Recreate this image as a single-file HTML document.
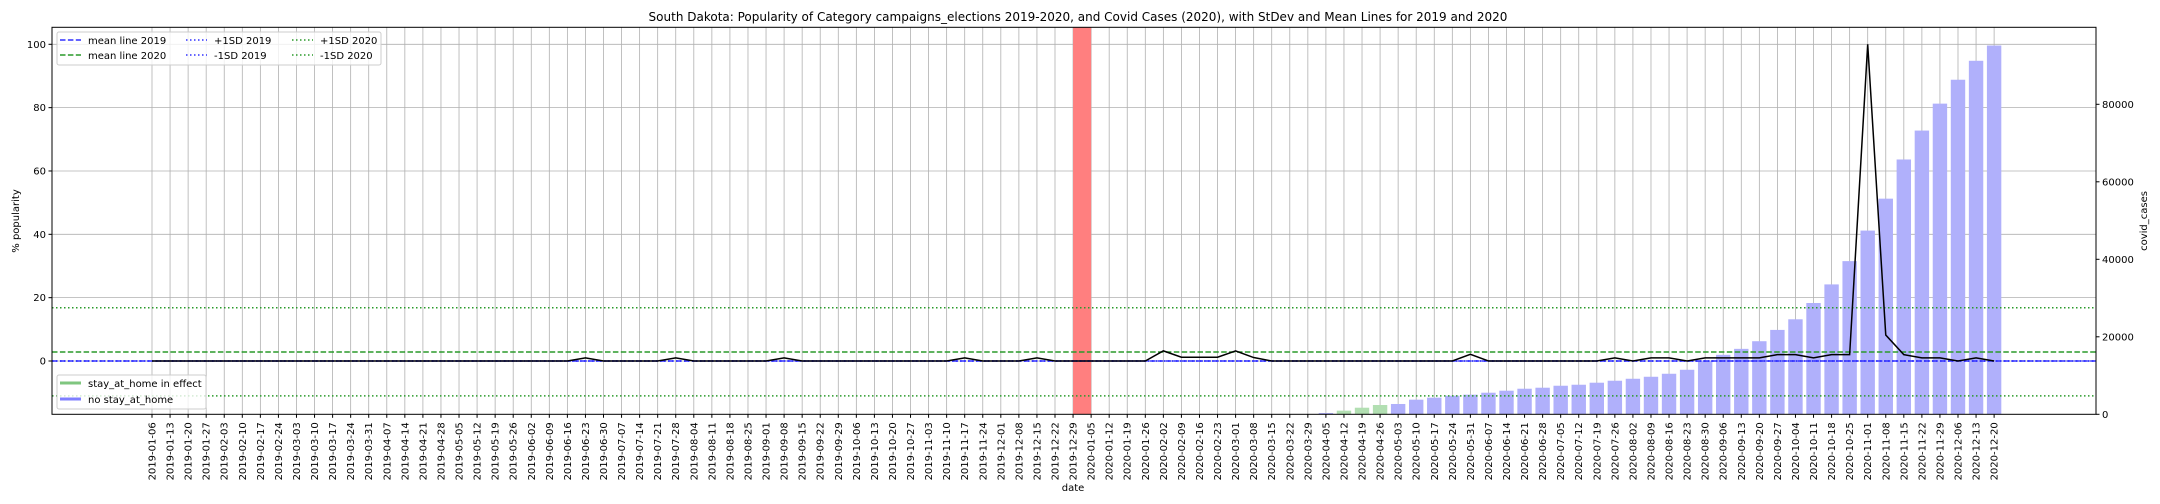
<!DOCTYPE html>
<html><head><meta charset="utf-8"><style>
body{margin:0;background:#fff}
svg{display:block;font-family:"DejaVu Sans","Liberation Sans",sans-serif}
</style></head><body>
<svg id="chart" width="2160" height="504" xmlns="http://www.w3.org/2000/svg">
<rect width="2160" height="504" fill="#fff"/>
<g id="grid"></g><g id="bands"></g><g id="bars"></g><g id="hlines"></g><g id="line"></g><g id="axes"></g>
<text x="1078" y="21" text-anchor="middle" font-size="12">South Dakota: Popularity of Category campaigns_elections 2019-2020, and Covid Cases (2020), with StDev and Mean Lines for 2019 and 2020</text>
<text x="1073" y="491" text-anchor="middle" font-size="10">date</text>
<text transform="translate(19,221) rotate(-90)" text-anchor="middle" font-size="10">% popularity</text>
<text transform="translate(2147,221) rotate(-90)" text-anchor="middle" font-size="10">covid_cases</text>
<g font-size="10">
<rect x="57" y="32" width="324" height="33" rx="2" fill="#fff" fill-opacity="0.8" stroke="#ccc"/>
<line x1="60" x2="81" y1="40" y2="40" stroke="#3030ff" stroke-width="1.5" stroke-dasharray="5.5 2.4"/><text x="88" y="44">mean line 2019</text>
<line x1="60" x2="81" y1="55" y2="55" stroke="#2a9a2a" stroke-width="1.5" stroke-dasharray="5.5 2.4"/><text x="88" y="59">mean line 2020</text>
<line x1="186" x2="207" y1="40" y2="40" stroke="#3030ff" stroke-width="1.5" stroke-dasharray="1.5 2.5"/><text x="214" y="44">+1SD 2019</text>
<line x1="186" x2="207" y1="55" y2="55" stroke="#3030ff" stroke-width="1.5" stroke-dasharray="1.5 2.5"/><text x="214" y="59">-1SD 2019</text>
<line x1="292" x2="313" y1="40" y2="40" stroke="#2a9a2a" stroke-width="1.5" stroke-dasharray="1.5 2.5"/><text x="320" y="44">+1SD 2020</text>
<line x1="292" x2="313" y1="55" y2="55" stroke="#2a9a2a" stroke-width="1.5" stroke-dasharray="1.5 2.5"/><text x="320" y="59">-1SD 2020</text>
</g>
<g font-size="10">
<rect x="57" y="375" width="149" height="34" rx="2" fill="#fff" fill-opacity="0.8" stroke="#ccc"/>
<line x1="60" x2="81" y1="383" y2="383" stroke="#7fc67f" stroke-width="3"/><text x="88" y="387">stay_at_home in effect</text>
<line x1="60" x2="81" y1="399" y2="399" stroke="#7f7fff" stroke-width="3"/><text x="88" y="403">no stay_at_home</text>
</g>
</svg>
<script>
const popularity = [0,0,0,0,0,0,0,0,0,0,0,0,0,0,0,0,0,0,0,0,0,0,0,0,1,0,0,0,0,1,0,0,0,0,0,1,0,0,0,0,0,0,0,0,0,1,0,0,0,1,0,0,
0,0,0,0,3.2,1.2,1.2,1.2,3.2,1.1,0,0,0,0,0,0,0,0,0,0,0,2.1,0,0,0,0,0,0,0,1,0,1,1,0,1,1,1,1,2,2,1,2,2,100,8.2,2,1,1,0,1,0];
const covidCases = [340,940,1700,2400,2660,3770,4290,4800,5060,5570,6090,6600,6860,7370,7630,8150,8660,9170,9690,10460,11490,13800,15350,16890,18860,21780,24520,28720,33520,39530,47410,55650,65760,73220,80170,86340,91230,95170];
const covidStart = 65;
const stayAtHome = [66,67,68];
const meanStats = {mean2019:0, mean2020:2.84, plus2019:0, minus2019:0, plus2020:16.8, minus2020:-11};
const leftTicks = [0,20,40,60,80,100];
const rightTicks = [0,20000,40000,60000,80000];
const highlightIdx = 51;

const NS="http://www.w3.org/2000/svg";
function el(t,a,p){const e=document.createElementNS(NS,t);for(const k in a)e.setAttribute(k,a[k]);document.getElementById(p).appendChild(e);return e;}
const L=52,R=2096,T=27.3,B=414.3;
const xs=i=>152+i*18.06;
const yl=v=>361-v*3.167;
const yr=c=>B-c*310/80000;
const dates=[];
{let d=new Date(Date.UTC(2019,0,6));for(let i=0;i<popularity.length;i++){if(i===52)d=new Date(Date.UTC(2020,0,5));dates.push(d.toISOString().slice(0,10));d=new Date(d.getTime()+7*864e5);}}

leftTicks.forEach(v=>{const g=el('line',{x1:L,x2:R,y1:yl(v),y2:yl(v),stroke:'#b0b0b0','stroke-width':0.8},'grid');});
dates.forEach((d,i)=>{const g=el('line',{x1:xs(i),x2:xs(i),y1:T,y2:B,stroke:'#b0b0b0','stroke-width':0.8},'grid');});
{const r=el('rect',{x:xs(highlightIdx),y:T,width:xs(highlightIdx+1)-xs(highlightIdx),height:B-T,fill:'#ff7f7f'},'bands');}
covidCases.forEach((c,k)=>{const i=covidStart+k;const g=stayAtHome.includes(i);
const b=el('rect',{x:xs(i)-7.2,y:yr(c),width:14.4,height:B-yr(c),fill:g?'#b2dfb2':'#b0b0fb'},'bars');

});
function hl(v,col,dash,name,w){const l=el('line',{x1:L,x2:R,y1:yl(v),y2:yl(v),stroke:col,'stroke-width':w||1.5,'stroke-dasharray':dash},'hlines');}
hl(meanStats.mean2020,'#2a9a2a','5.5 2.4','mean-line-2020');
hl(meanStats.plus2020,'#2a9a2a','1.5 2.5','plus1sd-2020');
hl(meanStats.minus2020,'#2a9a2a','1.5 2.5','minus1sd-2020');
hl(meanStats.mean2019,'#3030ff','5.5 2.4','mean-line-2019');
hl(meanStats.plus2019,'#3030ff','1.5 2.5','plus1sd-2019');
hl(meanStats.minus2019,'#3030ff','1.5 2.5','minus1sd-2019');
{const p=el('polyline',{points:popularity.map((v,i)=>xs(i)+','+yl(v)).join(' '),fill:'none',stroke:'#000','stroke-width':1.5},'line');}
{const r=el('rect',{x:L,y:T,width:R-L,height:B-T,fill:'none',stroke:'#000','stroke-width':1},'axes');}
leftTicks.forEach(v=>{el('line',{x1:L-3.5,x2:L,y1:yl(v),y2:yl(v),stroke:'#000'},'axes');const t=el('text',{x:L-6,y:yl(v)+3.5,'text-anchor':'end','font-size':10},'axes');t.textContent=v;});
rightTicks.forEach(v=>{el('line',{x1:R,x2:R+3.5,y1:yr(v),y2:yr(v),stroke:'#000'},'axes');const t=el('text',{x:R+6,y:yr(v)+3.5,'font-size':10},'axes');t.textContent=v;});
dates.forEach((d,i)=>{el('line',{x1:xs(i),x2:xs(i),y1:B,y2:B+3.5,stroke:'#000'},'axes');const t=el('text',{x:0,y:0,'text-anchor':'end','font-size':10,transform:`translate(${xs(i)+3.5},${B+8}) rotate(-90)`},'axes');t.textContent=d;});
</script>
</body></html>
